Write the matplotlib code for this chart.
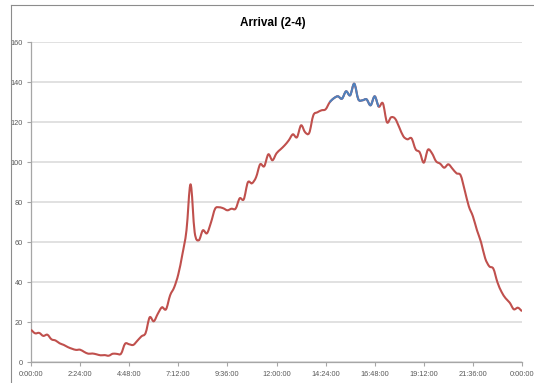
import numpy as np
import matplotlib
matplotlib.use("Agg")
import matplotlib.pyplot as plt
from matplotlib.path import Path
from matplotlib.patches import PathPatch
from matplotlib.lines import Line2D

# ---- data ---------------------------------------------------------------
title = "Arrival (2-4)"
step_hours = 0.2  # one reading every 12 minutes

arrivals = [
    16.3, 14.5, 14.7, 13.2, 13.8, 11.5, 10.9, 9.5, 8.7, 7.6,
    6.8, 6.2, 6.3, 5.2, 4.3, 4.4, 4.0, 3.5, 3.6, 3.3,
    4.3, 4.2, 4.3, 9.3, 9.0, 8.7, 10.8, 13.0, 14.6, 22.5,
    20.5, 24.3, 27.5, 26.5, 33.5, 37.5, 44.0, 54.0, 66.0, 89.0,
    65.0, 61.0, 66.0, 64.5, 70.0, 76.8, 77.5, 77.0, 76.0, 76.8,
    76.8, 82.0, 81.5, 90.0, 89.5, 92.5, 99.0, 98.0, 104.0, 101.0,
    104.5, 106.5, 108.5, 111.0, 114.0, 112.5, 118.5, 115.0, 114.7, 123.5,
    125.0, 126.0, 126.5, 130.0, 132.0, 133.0, 131.8, 135.5, 133.5, 139.3,
    131.5, 131.0, 131.5, 128.5, 133.0, 127.8, 129.5, 120.0, 122.5, 121.8,
    117.5, 113.0, 111.5, 112.0, 106.5, 105.0, 99.8, 106.3, 104.5, 100.5,
    99.3, 97.3, 99.0, 96.8, 94.5, 93.5, 86.0, 78.0, 73.0, 66.0,
    60.0, 52.0, 48.0, 46.8, 40.0, 35.2, 32.0, 29.8, 26.5, 27.3,
    25.5,
]
peak_first, peak_last = 73, 85  # readings drawn in the peak colour

x_ticks = [0, 2.4, 4.8, 7.2, 9.6, 12.0, 14.4, 16.8, 19.2, 21.6, 24.0]
x_tick_labels = ["0:00:00", "2:24:00", "4:48:00", "7:12:00", "9:36:00",
                 "12:00:00", "14:24:00", "16:48:00", "19:12:00", "21:36:00",
                 "0:00:00"]
y_ticks = [0, 20, 40, 60, 80, 100, 120, 140, 160]

hours = np.arange(len(arrivals)) * step_hours
values = np.array(arrivals, dtype=float)

# ---- style --------------------------------------------------------------
RED = "#C0504D"
BLUE = "#4F81BD"
GRID = "#D9D9D9"
AXIS = "#A6A6A6"
LABEL = "#595959"
FONT = ["Liberation Sans Narrow", "Liberation Sans", "DejaVu Sans"]


def smooth_path(x, y, lo, hi):
    """Catmull-Rom style cubic Bezier through points lo..hi."""
    n = len(x)
    verts = [(x[lo], y[lo])]
    codes = [Path.MOVETO]
    for i in range(lo, hi):
        i0 = max(i - 1, 0)
        i3 = min(i + 2, n - 1)
        c1 = (x[i] + (x[i + 1] - x[i0]) / 6.0, y[i] + (y[i + 1] - y[i0]) / 6.0)
        c2 = (x[i + 1] - (x[i3] - x[i]) / 6.0, y[i + 1] - (y[i3] - y[i]) / 6.0)
        verts += [c1, c2, (x[i + 1], y[i + 1])]
        codes += [Path.CURVE4] * 3
    return Path(verts, codes)


W, H = 534, 383
fig = plt.figure(figsize=(W / 100, H / 100), dpi=100)
fig.patch.set_facecolor("white")

ax = fig.add_axes([31 / W, (H - 362.3) / H, 491 / W, 320 / H])
ax.set_xlim(0, 24)
ax.set_ylim(0, 160)

for s in ("top", "right"):
    ax.spines[s].set_visible(False)
for s in ("left", "bottom"):
    ax.spines[s].set_color(AXIS)
    ax.spines[s].set_linewidth(0.9)

ax.set_yticks(y_ticks)
ax.set_yticklabels([str(v) for v in y_ticks])
ax.set_xticks(x_ticks)
ax.set_xticklabels(x_tick_labels)
ax.tick_params(axis="both", length=3, width=0.8, color=AXIS,
               labelcolor=LABEL, labelsize=5.3)
ax.tick_params(axis="y", pad=3)
ax.tick_params(axis="x", pad=3.5)
for lab in ax.get_xticklabels() + ax.get_yticklabels():
    lab.set_family(FONT)

ax.grid(axis="y", color=GRID, linewidth=1.1)
ax.set_axisbelow(True)

ax.add_patch(PathPatch(smooth_path(hours, values, 0, len(values) - 1),
                       fill=False, edgecolor=RED, linewidth=1.5,
                       joinstyle="round", capstyle="butt", zorder=3))
ax.add_patch(PathPatch(smooth_path(hours, values, peak_first, peak_last),
                       fill=False, edgecolor=BLUE, linewidth=1.5,
                       joinstyle="round", capstyle="butt", zorder=4))

fig.text(273 / W, 1 - 23 / H, title, ha="center", va="center",
         fontsize=8.5, fontweight="bold", family=FONT, color="black")

# chart-area frame
fig.add_artist(Line2D([11 / W, 11 / W], [0, 1 - 5 / H],
                      transform=fig.transFigure, color="#8C8C8C", lw=0.8))
fig.add_artist(Line2D([11 / W, 1], [1 - 5 / H, 1 - 5 / H],
                      transform=fig.transFigure, color="#8C8C8C", lw=0.8))

fig.savefig("out.png", dpi=100, facecolor="white")
